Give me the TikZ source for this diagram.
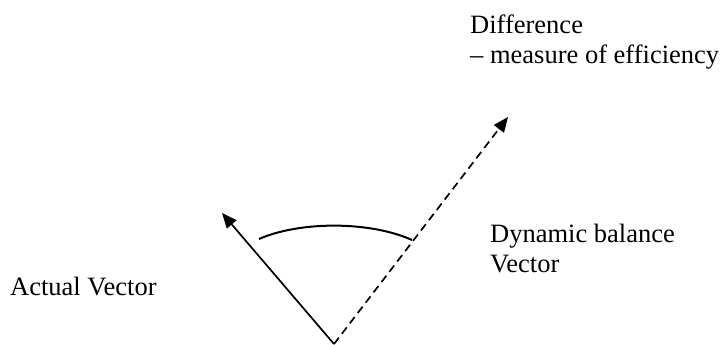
\documentclass[tikz,border=0pt]{standalone}
\usepackage{fontspec}
\setmainfont{Liberation Serif}
\usepackage{tikz}
\usetikzlibrary{arrows.meta,positioning}
\definecolor{vcink}{HTML}{000000}
\tikzset{
  vclabel/.style={inner sep=0pt, align=left, anchor=north west,
    font=\fontsize{26.5}{30}\selectfont, text=vcink},
  vcarrow/.style={-{Triangle[length=15pt,width=12.5pt]}, line width=1.7pt, draw=vcink},
  vcdash/.style={vcarrow, dash pattern=on 8pt off 5pt},
  vcarc/.style={line width=2pt, draw=vcink}
}

\begin{document}
\begin{tikzpicture}[x=1pt, y=-1pt]
\useasboundingbox (0,0) rectangle (720,345);
\coordinate (origin) at (334,344);
\coordinate (actualtip) at (222,213);
\coordinate (dyntip) at (508,117);
\coordinate (arcstart) at (259,239);
\coordinate (arcend) at (412,240);
\node[vclabel] (actual) at (10,277) {Actual Vector};
\node[vclabel] (dynamic) at (490,224) {Dynamic balance\\Vector};
\node[vclabel] (difference) at (470,15) {Difference\\-- measure of efficiency};
\draw[vcarrow] (origin) -- (actualtip);
\draw[vcdash] (origin) -- (dyntip);
\draw[vcarc] (arcstart) .. controls (300,221) and (370,221) .. (arcend);
\end{tikzpicture}
\end{document}
